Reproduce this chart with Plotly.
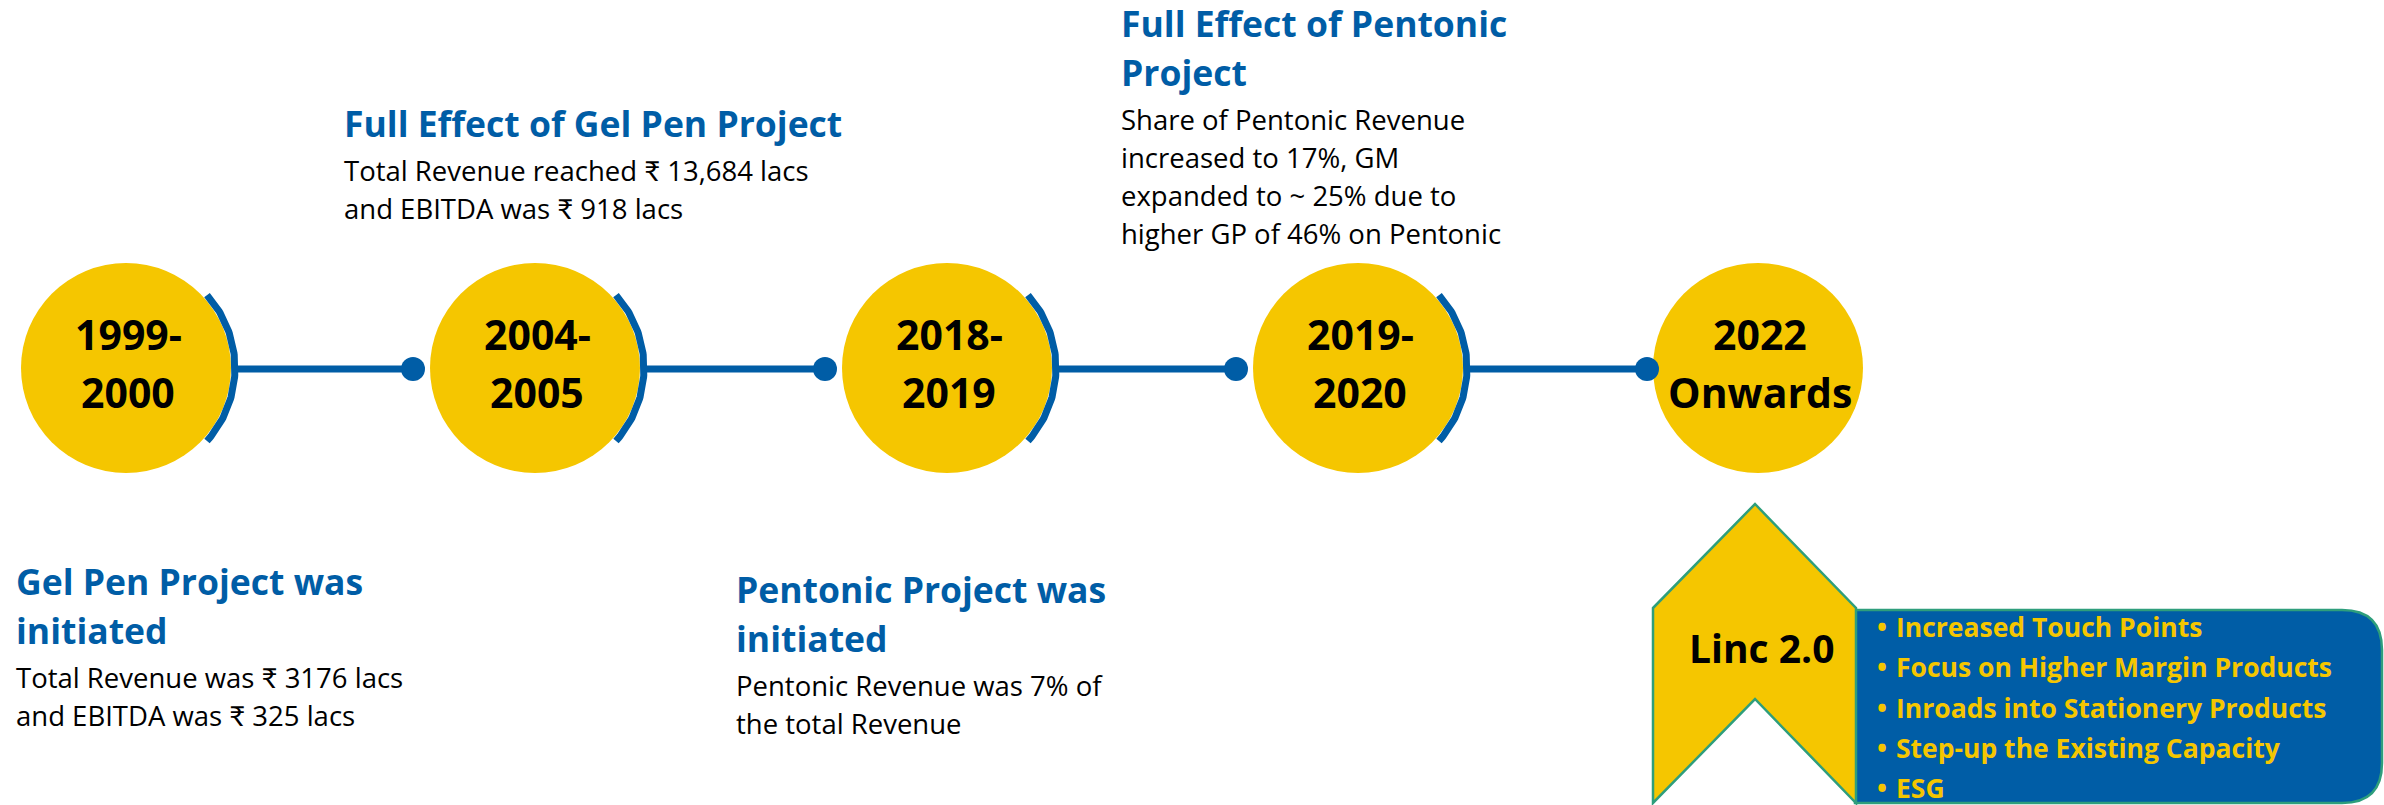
import numpy as np
import plotly.graph_objects as go

# ---------------- data ----------------
period_line1 = ["1999-", "2004-", "2018-", "2019-", "2022"]
period_line2 = ["2000", "2005", "2019", "2020", "Onwards"]

headings = [
    ["Gel Pen Project was", "initiated"],
    ["Full Effect of Gel Pen Project"],
    ["Pentonic Project was", "initiated"],
    ["Full Effect of Pentonic", "Project"],
]
bodies = [
    ["Total Revenue was ₹ 3176 lacs", "and EBITDA was ₹ 325 lacs"],
    ["Total Revenue reached ₹ 13,684 lacs", "and EBITDA was ₹ 918 lacs"],
    ["Pentonic Revenue was 7% of", "the total Revenue"],
    ["Share of Pentonic Revenue", "increased to 17%, GM",
     "expanded to ~ 25% due to", "higher GP of 46% on Pentonic"],
]
linc_label = "Linc 2.0"
linc_points = [
    "Increased Touch Points",
    "Focus on Higher Margin Products",
    "Inroads into Stationery Products",
    "Step-up the Existing Capacity",
    "ESG",
]

# ---------------- layout constants ----------------
W, H = 2384, 805
BLUE = "#005DA6"
YELLOW = "#F5C600"
TEAL = "#2E9E7C"
FONT = "'Open Sans', Lato, sans-serif"

CX = [126, 535, 947, 1358, 1758]
CY = 368
R = 105
DOT_X = [413, 825, 1236, 1647]
LINE_Y = 369

BLOCK_POS = [(14, 595), (342, 137), (734, 603), (1119, 37)]  # x, first heading baseline
HEAD_SIZE, BODY_SIZE = 35.5, 27.5
HEAD_GAP, HEAD_BODY_GAP, BODY_GAP = 49, 44, 38

fig = go.Figure()
shapes = []
annotations = []

# circles
for cx in CX:
    shapes.append(dict(type="circle", xref="x", yref="y", layer="below",
                       x0=cx - R, x1=cx + R, y0=CY - R, y1=CY + R,
                       fillcolor=YELLOW, line=dict(width=0)))

# arcs, connector lines, dots
ang = np.radians(np.linspace(-42, 42, 80))
for i in range(len(DOT_X)):
    cx = CX[i]
    fig.add_trace(go.Scatter(x=cx + 109 * np.cos(ang), y=CY + 109 * np.sin(ang),
                             mode="lines", line=dict(color=BLUE, width=7),
                             hoverinfo="skip", showlegend=False))
    fig.add_trace(go.Scatter(x=[cx + 110, DOT_X[i]], y=[LINE_Y, LINE_Y],
                             mode="lines", line=dict(color=BLUE, width=7),
                             hoverinfo="skip", showlegend=False))
fig.add_trace(go.Scatter(x=DOT_X, y=[LINE_Y] * len(DOT_X), mode="markers",
                         marker=dict(color=BLUE, size=24, line=dict(width=0)),
                         hoverinfo="skip", showlegend=False))

# circle labels
for cx, l1, l2 in zip(CX, period_line1, period_line2):
    for txt, yy in ((l1, 334), (l2, 392)):
        annotations.append(dict(x=cx + 2, y=yy, xref="x", yref="y", text=f"<b>{txt}</b>",
                                showarrow=False, xanchor="center", yanchor="middle",
                                font=dict(family=FONT, size=41, color="black")))

# milestone text blocks
for (bx, by), heads, body in zip(BLOCK_POS, headings, bodies):
    base = by
    for k, h in enumerate(heads):
        if k > 0:
            base += HEAD_GAP
        annotations.append(dict(x=bx, y=base - 0.39 * HEAD_SIZE, xref="x", yref="y",
                                text=f"<b>{h}</b>", showarrow=False,
                                xanchor="left", yanchor="middle",
                                font=dict(family=FONT, size=HEAD_SIZE, color=BLUE)))
    base += HEAD_BODY_GAP
    for k, b in enumerate(body):
        if k > 0:
            base += BODY_GAP
        annotations.append(dict(x=bx, y=base - 0.39 * BODY_SIZE, xref="x", yref="y",
                                text=b, showarrow=False,
                                xanchor="left", yanchor="middle",
                                font=dict(family=FONT, size=BODY_SIZE, color="black")))

# Linc 2.0 box (blue rounded panel) and chevron
shapes.append(dict(type="path", xref="x", yref="y", layer="above",
                   path="M 1855,610 L 2342,610 Q 2382,610 2382,650 L 2382,763 "
                        "Q 2382,803 2342,803 L 1855,803 Z",
                   fillcolor=BLUE, line=dict(color=TEAL, width=2.5)))
shapes.append(dict(type="path", xref="x", yref="y", layer="above",
                   path="M 1653,608 L 1755,504 L 1856,608 L 1856,803 "
                        "L 1755,699 L 1653,803 Z",
                   fillcolor=YELLOW, line=dict(color=TEAL, width=2.5)))

annotations.append(dict(x=1761, y=647, xref="x", yref="y", text=f"<b>{linc_label}</b>",
                        showarrow=False, xanchor="center", yanchor="middle",
                        font=dict(family=FONT, size=39, color="black")))
for k, p in enumerate(linc_points):
    yy = 627 + k * 40.3
    annotations.append(dict(x=1882, y=yy, xref="x", yref="y", text="<b>•</b>",
                            showarrow=False, xanchor="center", yanchor="middle",
                            font=dict(family=FONT, size=26.5, color=YELLOW)))
    annotations.append(dict(x=1894, y=yy, xref="x", yref="y", text=f"<b>{p}</b>",
                            showarrow=False, xanchor="left", yanchor="middle",
                            font=dict(family=FONT, size=26.5, color=YELLOW)))

fig.update_layout(
    width=W, height=H,
    margin=dict(l=0, r=0, t=0, b=0),
    paper_bgcolor="white", plot_bgcolor="white",
    xaxis=dict(range=[0, W], visible=False, fixedrange=True),
    yaxis=dict(range=[H, 0], visible=False, fixedrange=True),
    shapes=shapes, annotations=annotations,
    showlegend=False,
)
fig.write_html("out.html", config={"displayModeBar": False},
               post_script="document.body.style.margin='0';document.body.style.overflow='hidden';")
